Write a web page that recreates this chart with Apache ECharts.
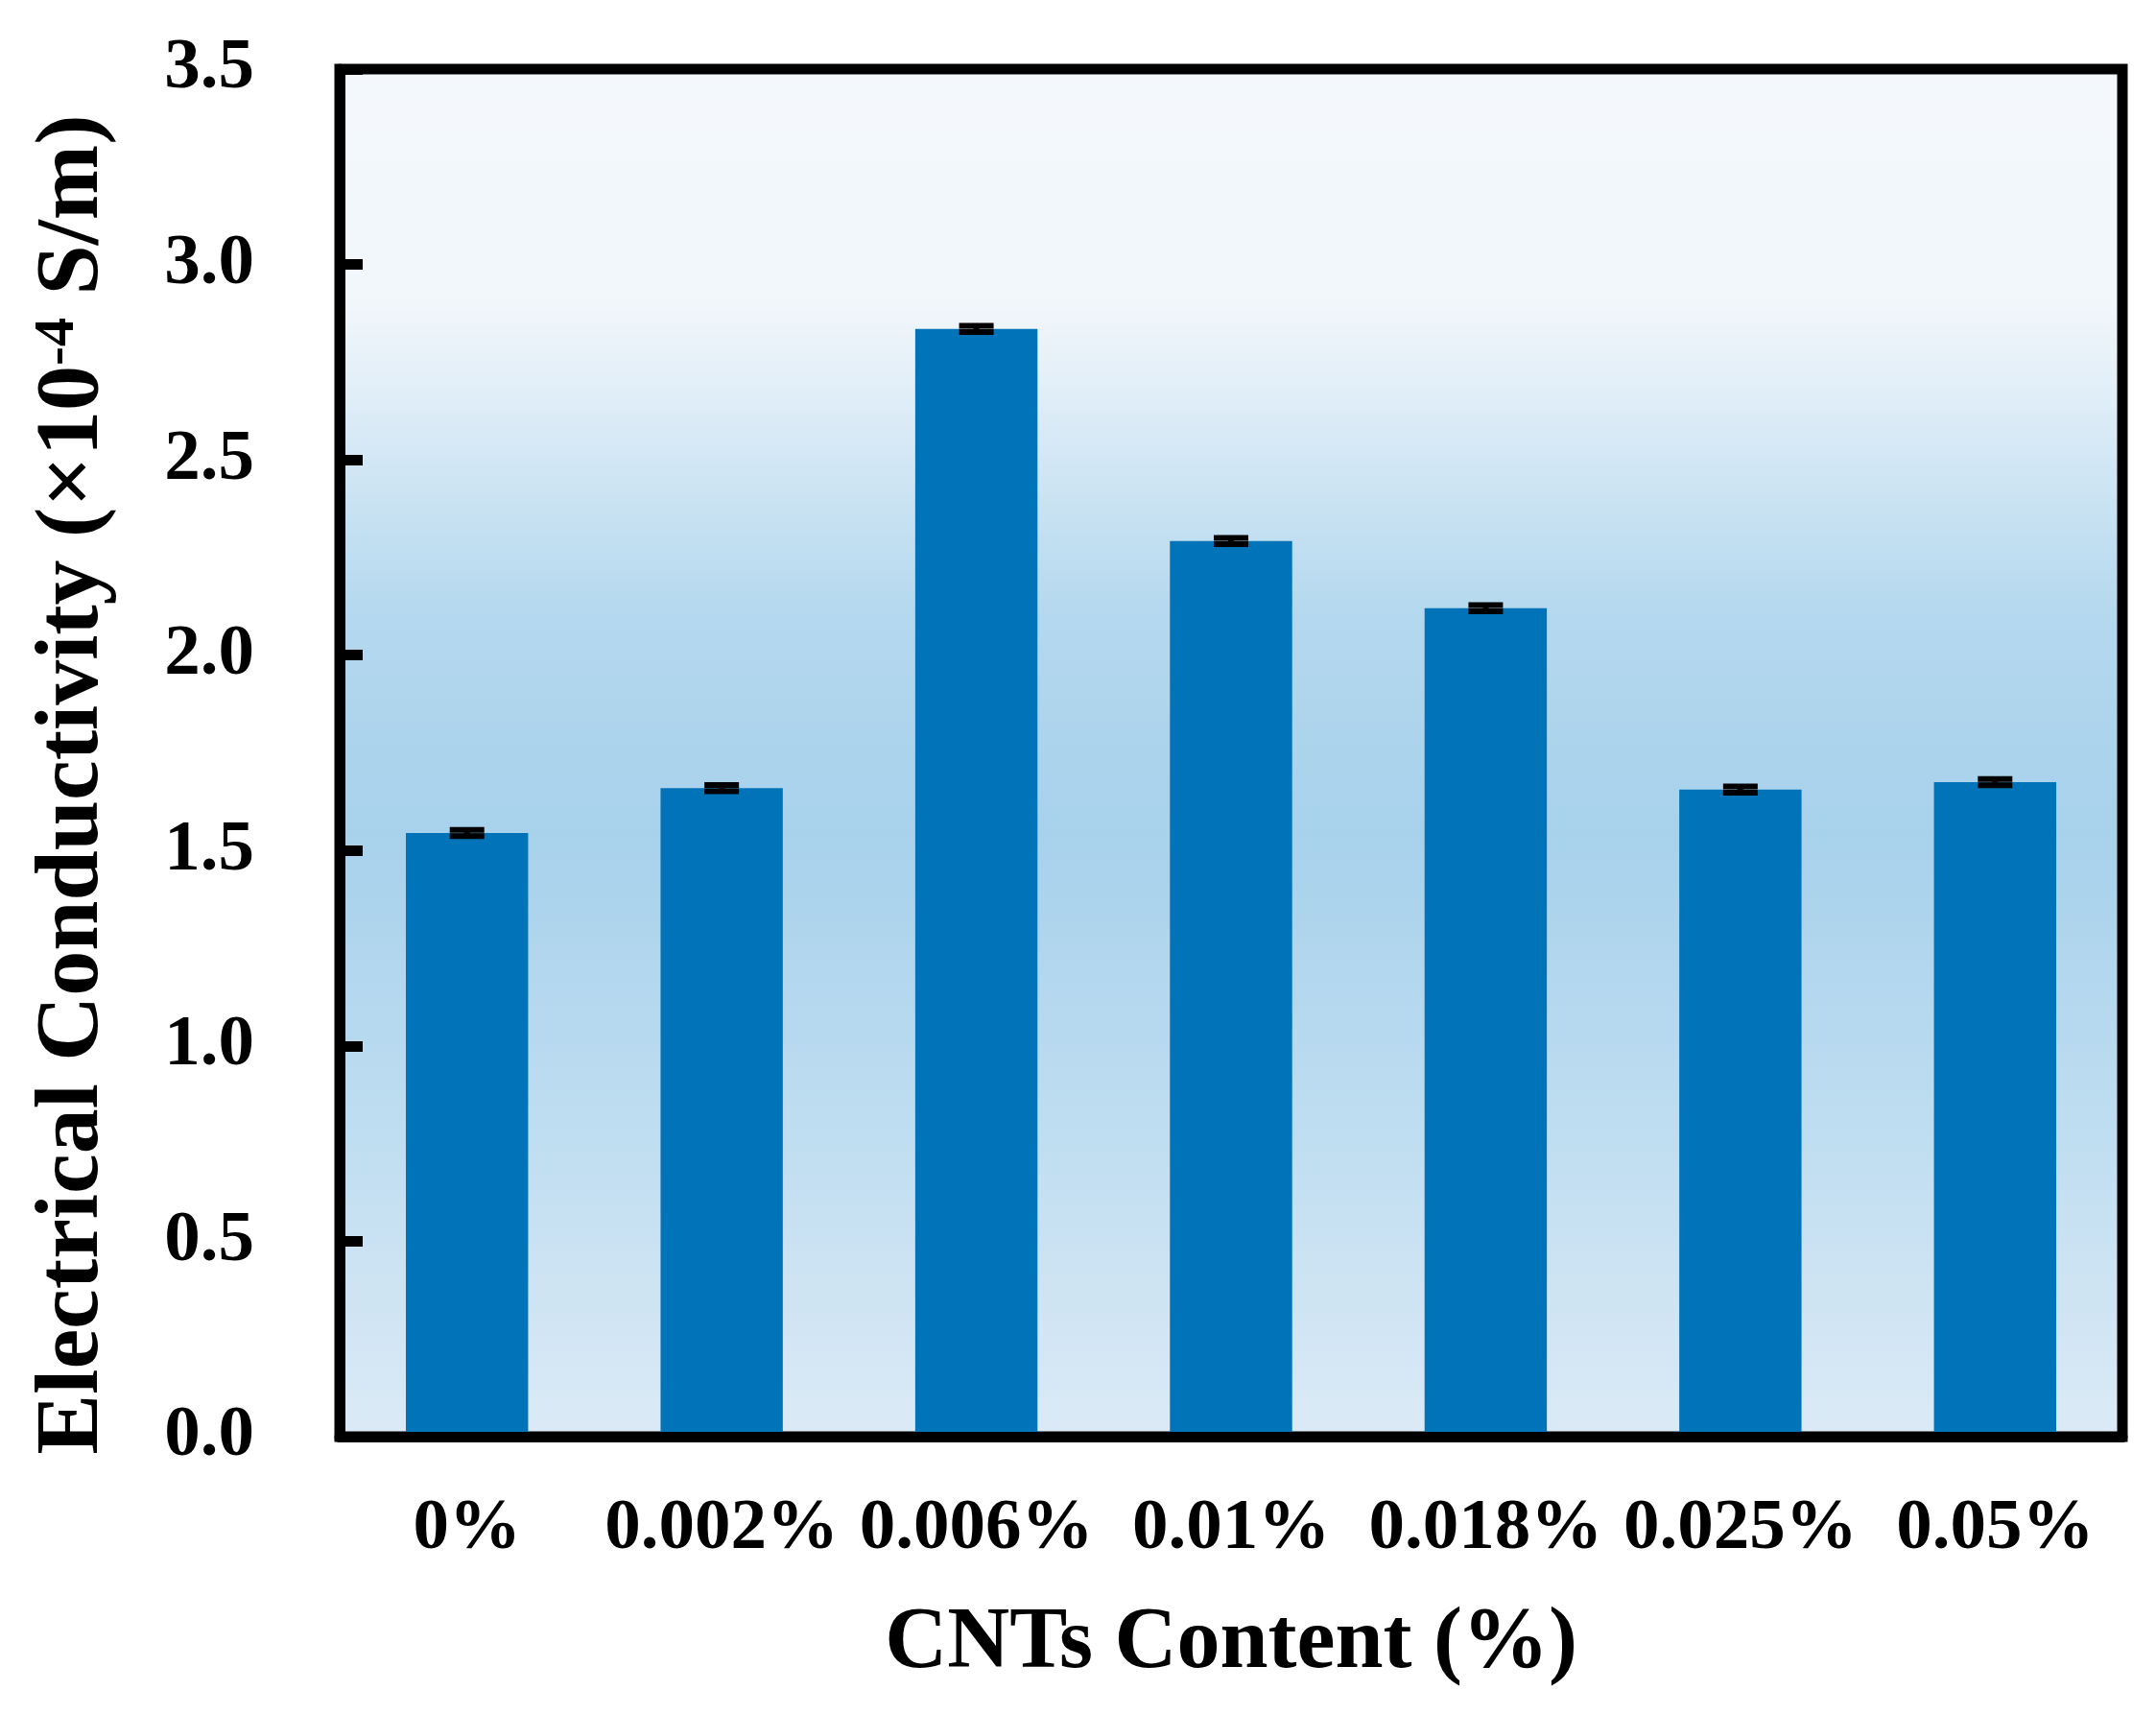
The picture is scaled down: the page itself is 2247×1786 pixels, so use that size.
<!DOCTYPE html>
<html>
<head>
<meta charset="utf-8">
<title>Electrical Conductivity vs CNTs Content</title>
<script src="https://cdn.jsdelivr.net/npm/echarts@6/dist/echarts.min.js"></script>
<style>
  html, body { margin: 0; padding: 0; background: #fff; }
  #main { width: 2247px; height: 1786px; }
</style>
</head>
<body>
<div id="main"></div>
<script>
// CNTs content categories
var categories = ['0%', '0.002%', '0.006%', '0.01%', '0.018%', '0.025%', '0.05%'];
// electrical conductivity, x10^-4 S/m
var conductivity = [1.545, 1.66, 2.835, 2.292, 2.12, 1.656, 1.675];
// error bar half-heights
var errors = [0.008, 0.008, 0.008, 0.008, 0.008, 0.008, 0.008];
var yTicks = [0, 0.5, 1.0, 1.5, 2.0, 2.5, 3.0, 3.5];

var font = 'Liberation Serif';
var chart = echarts.init(document.getElementById('main'));

var errData = conductivity.map(function (v, i) {
  return [i, v - errors[i], v + errors[i]];
});

var option = {
  animation: false,
  grid: {
    left: 354,
    top: 72,
    right: 35,
    bottom: 289,
    show: true,
    borderColor: '#000',
    borderWidth: 11,
    backgroundColor: {
      type: 'linear', x: 0, y: 0, x2: 0, y2: 1,
      colorStops: [
        { offset: 0, color: '#f4f8fc' },
        { offset: 0.17, color: '#f2f7fb' },
        { offset: 0.23, color: '#e3eff8' },
        { offset: 0.33, color: '#c6e1f2' },
        { offset: 0.4, color: '#b4d8ee' },
        { offset: 0.56, color: '#a8d1ec' },
        { offset: 0.75, color: '#bcdcf0' },
        { offset: 1, color: '#dceaf6' }
      ]
    }
  },
  xAxis: {
    type: 'category',
    data: categories,
    z: 10,
    axisLine: { lineStyle: { color: '#000', width: 11 } },
    axisTick: { show: false },
    axisLabel: {
      interval: 0,
      margin: 59,
      fontFamily: font,
      fontWeight: 'bold',
      fontSize: 75,
      color: '#000'
    },
    name: 'CNTs Content (%)',
    nameLocation: 'middle',
    nameGap: 172,
    nameTextStyle: {
      fontFamily: font,
      fontWeight: 'bold',
      fontSize: 90,
      color: '#000'
    }
  },
  yAxis: {
    type: 'value',
    min: 0,
    max: 3.5,
    interval: 0.5,
    z: 10,
    splitLine: { show: false },
    axisLine: { show: true, lineStyle: { color: '#000', width: 11 } },
    axisTick: { show: true, inside: true, length: 24, lineStyle: { color: '#000', width: 11 } },
    axisLabel: {
      margin: 89,
      fontFamily: font,
      fontWeight: 'bold',
      fontSize: 75,
      color: '#000',
      formatter: function (v) { return v.toFixed(1); }
    },
    name: 'Electrical Conductivity (×10{sup|-4} S/m)',
    nameLocation: 'middle',
    nameRotate: 90,
    nameGap: 230,
    nameTextStyle: {
      fontFamily: font,
      fontWeight: 'bold',
      fontSize: 94,
      color: '#000',
      padding: [0, 66, 0, 0],
      rich: {
        sup: {
          fontFamily: font,
          fontWeight: 'bold',
          fontSize: 60,
          color: '#000',
          verticalAlign: 'top',
          padding: [0, 0, 30, 0]
        }
      }
    }
  },
  series: [
    {
      type: 'bar',
      data: conductivity,
      barWidth: '48%',
      itemStyle: { color: '#0173b8' }
    },
    {
      type: 'custom',
      data: errData,
      z: 5,
      renderItem: function (params, api) {
        var x = api.value(0);
        var lo = api.coord([x, api.value(1)]);
        var hi = api.coord([x, api.value(2)]);
        var half = 18;
        var st = { stroke: '#000', lineWidth: 6 };
        return {
          type: 'group',
          children: [
            { type: 'line', shape: { x1: lo[0], y1: lo[1], x2: hi[0], y2: hi[1] }, style: st },
            { type: 'line', shape: { x1: hi[0] - half, y1: hi[1], x2: hi[0] + half, y2: hi[1] }, style: st },
            { type: 'line', shape: { x1: lo[0] - half, y1: lo[1], x2: lo[0] + half, y2: lo[1] }, style: st }
          ]
        };
      }
    }
  ]
};

chart.setOption(option);
</script>
</body>
</html>
